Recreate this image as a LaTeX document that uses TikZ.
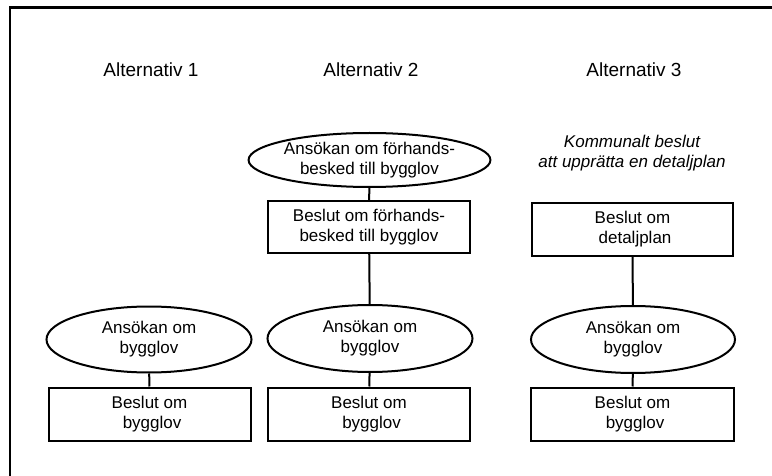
\documentclass[tikz,border=0pt]{standalone}
\usepackage{fontspec}
\setmainfont{Liberation Sans}
\usetikzlibrary{shapes.geometric}

\tikzset{
  frame/.style={line width=2.8pt, line cap=rect},
  stepbox/.style={draw, line width=2pt, rectangle, minimum width=202pt,
    minimum height=53pt, inner sep=0pt, align=center, font=\fontsize{17}{20}\selectfont},
  appl/.style={draw, line width=2pt, ellipse, minimum width=205pt,
    minimum height=66pt, inner sep=0pt, align=center, font=\fontsize{17}{20}\selectfont},
  heading/.style={font=\fontsize{19}{22}\selectfont, inner sep=0pt},
  note/.style={font=\fontsize{17}{20}\selectfont\itshape, align=center, inner sep=0pt},
  link/.style={line width=2pt}
}

\begin{document}
\begin{tikzpicture}[x=1pt, y=-1pt]
  \useasboundingbox (0,0) rectangle (772,476);
  \fill[white] (0,0) rectangle (772,476);

  % open frame: top and left edges
  \coordinate (fbl) at (10,478);
  \coordinate (ftl) at (10,7.5);
  \coordinate (ftr) at (774,7.5);
  \draw[frame] (fbl) -- (ftl) -- (ftr);

  % column headings
  \node[heading] (h1) at (151,70) {Alternativ 1};
  \node[heading] (h2) at (371,70) {Alternativ 2};
  \node[heading] (h3) at (634,70) {Alternativ 3};

  % Alternativ 1
  \node[appl] (a1) at (149,339.5) {Ansökan om\\bygglov};
  \node[stepbox] (b1) at (149.5,414) {Beslut om\\\hspace*{0.3em}bygglov};
  \draw[link] (a1) -- (b1);

  % Alternativ 2
  \node[appl, minimum height=54pt] (a2u) at (369.5,160) {Ansökan om förhands-\\besked till bygglov};
  \node[stepbox, minimum height=52pt] (b2u) at (369,227) {Beslut om förhands-\\besked till bygglov};
  \node[appl, minimum height=67pt] (a2) at (370,338.5) {Ansökan om\\bygglov};
  \node[stepbox] (b2) at (369,414) {Beslut om\\\hspace*{0.3em}bygglov};
  \draw[link] (a2u) -- (b2u);
  \draw[link] (b2u) -- (a2);
  \draw[link] (a2) -- (b2);

  % Alternativ 3
  \node[note] (n3) at (632,153) {Kommunalt beslut\\att upprätta en detaljplan};
  \node[stepbox, minimum width=201pt] (b3u) at (632.5,229.5) {Beslut om\\\hspace*{0.3em}detaljplan};
  \node[appl, minimum width=204pt, minimum height=67pt] (a3) at (633,339.5) {Ansökan om\\bygglov};
  \node[stepbox, minimum width=203pt] (b3) at (632.5,414) {Beslut om\\\hspace*{0.3em}bygglov};
  \draw[link] (b3u) -- (a3);
  \draw[link] (a3) -- (b3);
\end{tikzpicture}
\end{document}
